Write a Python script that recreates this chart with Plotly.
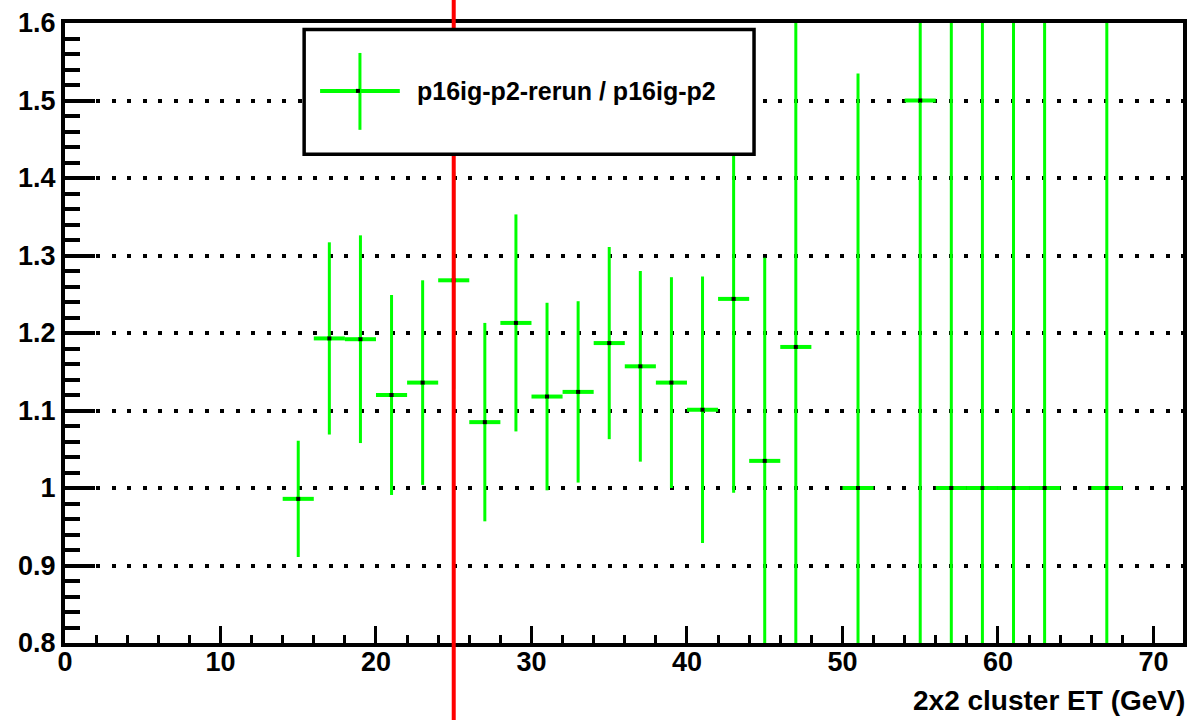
import plotly.graph_objects as go

# ---- data ----
et_bins = [15, 17, 19, 21, 23, 25, 27, 29, 31, 33, 35, 37, 39, 41, 43, 45, 47, 51, 55, 57, 59, 61, 63, 67]
ratio = [0.986, 1.193, 1.192, 1.120, 1.136, 1.268, 1.085, 1.213, 1.118, 1.124, 1.187, 1.157,
         1.136, 1.101, 1.244, 1.035, 1.182, 1.0, 1.5, 1.0, 1.0, 1.0, 1.0, 1.0]
ratio_err = [0.075, 0.124, 0.134, 0.129, 0.132, 0.14, 0.128, 0.14, 0.121, 0.117, 0.124, 0.123,
             0.136, 0.172, 0.25, 0.262, 0.55, 0.535, 1.37, 1.414, 1.414, 1.414, 1.414, 1.414]
bin_half_width = [1.0] * len(et_bins)
cut_et = 25
legend_label = "p16ig-p2-rerun / p16ig-p2"
x_title = "2x2 cluster ET (GeV)"
x_range = [0, 71.9]
y_range = [0.8, 1.6]

GREEN = "#00ff00"
FONT = "Liberation Sans"

W, H = 1195, 720
ML, MR, MT, MB = 65, 8, 22, 77
PW, PH = W - ML - MR, H - MT - MB


def px(xpix):
    return (xpix - ML) / PW


def py(ypix):
    return (H - MB - ypix) / PH


fig = go.Figure()
fig.add_trace(go.Scatter(
    x=et_bins, y=ratio, mode="markers",
    marker=dict(symbol="square", size=4, color="black", line=dict(width=0)),
    error_y=dict(type="data", array=ratio_err, color=GREEN, thickness=3, width=0),
    error_x=dict(type="data", array=bin_half_width, color=GREEN, thickness=4, width=0),
    showlegend=False, cliponaxis=True, hoverinfo="skip",
))

shapes = []
# red cut line spanning the whole canvas height
shapes.append(dict(type="line", xref="x", yref="paper", x0=cut_et, x1=cut_et,
                   y0=py(H + 5), y1=py(-5), line=dict(color="#ff0000", width=4), layer="above"))
# legend box
shapes.append(dict(type="rect", xref="paper", yref="paper", x0=px(305), x1=px(756.5),
                   y0=py(153.5), y1=py(28.5), line=dict(color="black", width=3.5),
                   fillcolor="white", layer="above"))
# legend glyph (cross + marker)
shapes.append(dict(type="line", xref="paper", yref="paper", x0=px(321), x1=px(401),
                   y0=py(90), y1=py(90), line=dict(color=GREEN, width=4), layer="above"))
shapes.append(dict(type="line", xref="paper", yref="paper", x0=px(361), x1=px(361),
                   y0=py(129), y1=py(52), line=dict(color=GREEN, width=3), layer="above"))
shapes.append(dict(type="rect", xref="paper", yref="paper", x0=px(357), x1=px(361),
                   y0=py(92), y1=py(88), line=dict(width=0), fillcolor="black", layer="above"))

annotations = [
    dict(text=legend_label, xref="paper", yref="paper", x=px(416), y=py(90),
         xanchor="left", yanchor="middle", showarrow=False,
         font=dict(family=FONT, size=25, color="black", weight="bold")),
    dict(text=x_title, xref="paper", yref="paper", x=1.0, y=py(701), xshift=4,
         xanchor="right", yanchor="middle", showarrow=False,
         font=dict(family=FONT, size=28, color="black", weight="bold")),
]

fig.update_layout(
    width=W, height=H,
    margin=dict(l=ML, r=MR, t=MT, b=MB, pad=0),
    paper_bgcolor="white", plot_bgcolor="white",
    shapes=shapes, annotations=annotations,
    showlegend=False,
)

fig.update_xaxes(
    range=x_range, showgrid=False, zeroline=False,
    showline=True, linecolor="black", linewidth=4, mirror=True,
    ticks="inside", ticklen=17, tickwidth=3, tickcolor="black",
    tick0=0, dtick=10, ticklabelstandoff=-8,
    minor=dict(ticks="inside", ticklen=8, tickwidth=3, tickcolor="black", dtick=2, showgrid=False),
    tickfont=dict(family=FONT, size=27, color="black", weight="bold"),
)
fig.update_yaxes(
    range=y_range, zeroline=False,
    showgrid=True, gridcolor="black", gridwidth=4, griddash="4px,11.5px",
    showline=True, linecolor="black", linewidth=4, mirror=True,
    ticks="inside", ticklen=30, tickwidth=3.5, tickcolor="black",
    tick0=0.8, dtick=0.1, tickformat="~g",
    minor=dict(ticks="inside", ticklen=15, tickwidth=3.5, tickcolor="black", dtick=0.02, showgrid=False),
    tickfont=dict(family=FONT, size=27, color="black", weight="bold"),
)

fig.write_html("out.html", config={"displayModeBar": False},
               post_script="document.body.style.margin='0';document.body.style.overflow='hidden';")
